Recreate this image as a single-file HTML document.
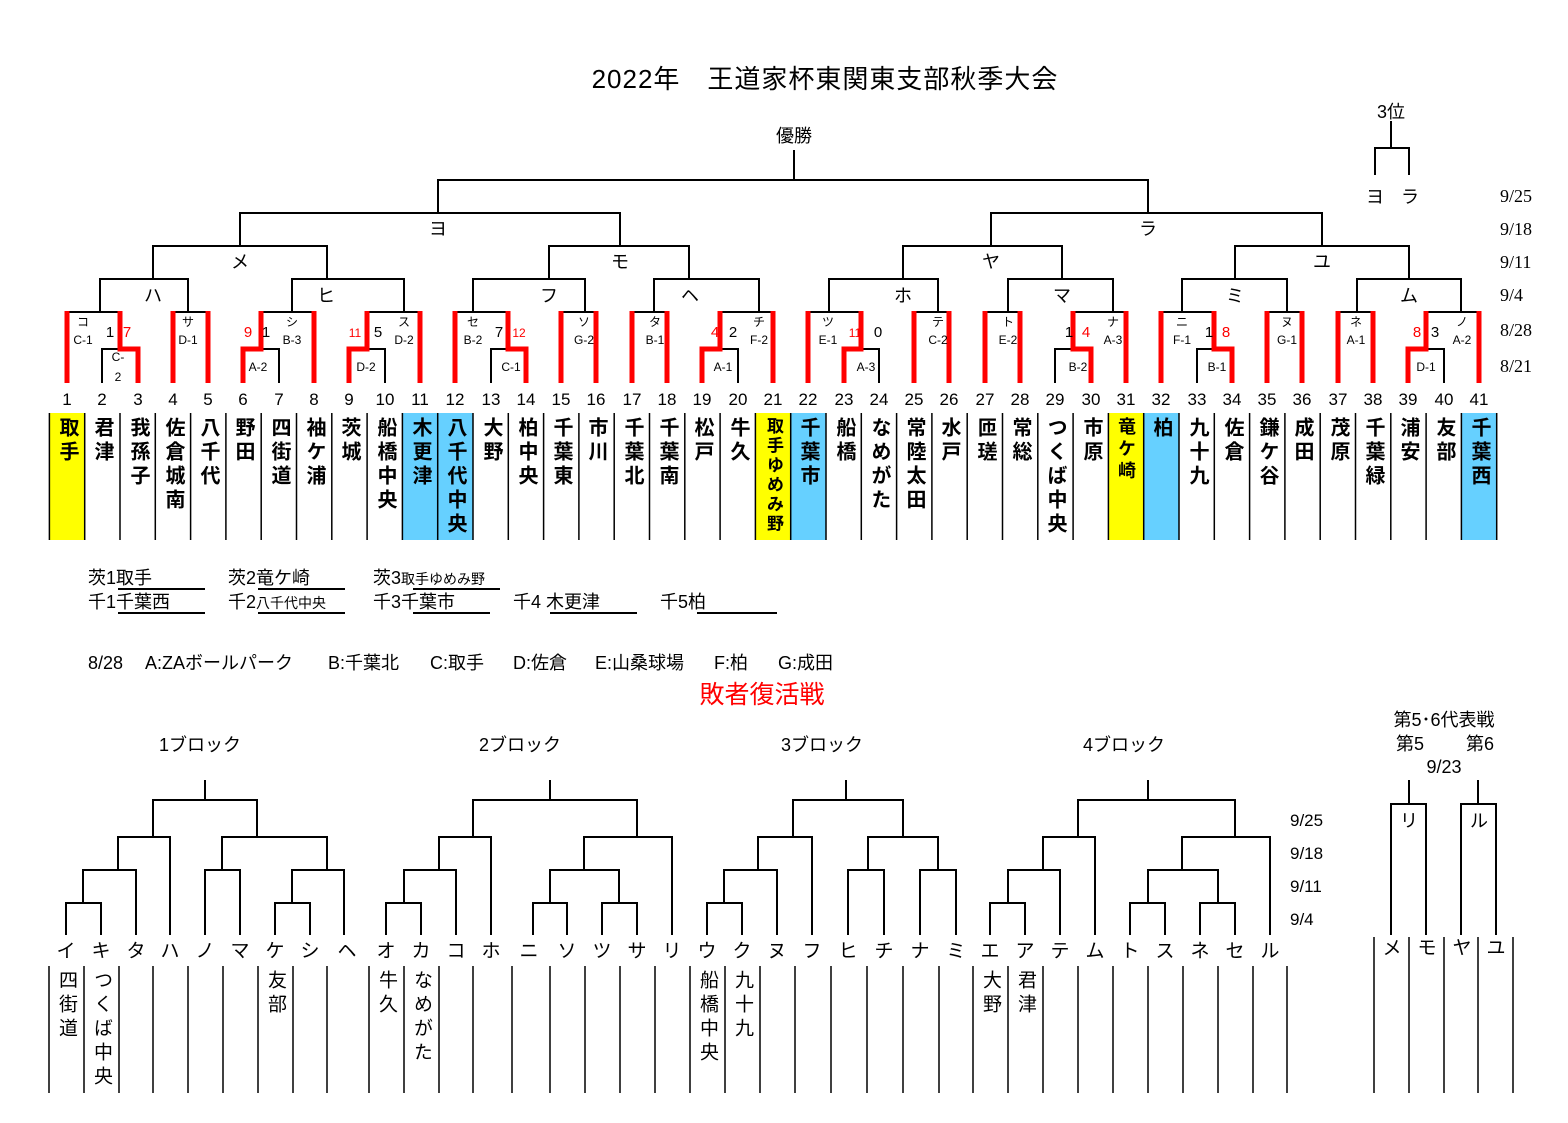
<!DOCTYPE html>
<html><head><meta charset="utf-8">
<style>
html,body{margin:0;padding:0;background:#fff;}
#w{position:relative;width:1568px;height:1123px;overflow:hidden;font-family:"Liberation Sans","Noto Sans CJK JP",sans-serif;}
svg{position:absolute;left:0;top:0;}
.v{position:absolute;writing-mode:vertical-rl;width:24px;line-height:24px;text-align:center;font-family:"Liberation Sans","Noto Sans CJK JP",sans-serif;color:#000;}
.b{font-weight:bold;font-size:20px;letter-spacing:4px;top:417px;}
.n{font-size:19px;letter-spacing:5px;top:970px;}
</style></head><body><div id="w">
<svg width="1568" height="1123" viewBox="0 0 1568 1123" font-family="Liberation Sans, Noto Sans CJK JP, sans-serif">
<g>
<rect x="49.4" y="413" width="35.3" height="127" fill="#ffff00"/>
<rect x="402.4" y="413" width="70.6" height="127" fill="#66d0ff"/>
<rect x="755.4" y="413" width="35.3" height="127" fill="#ffff00"/>
<rect x="790.7" y="413" width="35.3" height="127" fill="#66d0ff"/>
<rect x="1108.4" y="413" width="35.3" height="127" fill="#ffff00"/>
<rect x="1143.7" y="413" width="35.3" height="127" fill="#66d0ff"/>
<rect x="1461.4" y="413" width="35.3" height="127" fill="#66d0ff"/>
</g>
<path stroke="#000" stroke-width="1.5" fill="none" d="M49.4 413V540M84.7 413V540M120 413V540M155.3 413V540M190.6 413V540M225.9 413V540M261.2 413V540M296.5 413V540M331.8 413V540M367.1 413V540M402.4 413V540M437.7 413V540M473 413V540M508.3 413V540M543.6 413V540M578.9 413V540M614.2 413V540M649.5 413V540M684.8 413V540M720.1 413V540M755.4 413V540M790.7 413V540M826 413V540M861.3 413V540M896.6 413V540M931.9 413V540M967.2 413V540M1002.5 413V540M1037.8 413V540M1073.1 413V540M1108.4 413V540M1143.7 413V540M1179 413V540M1214.3 413V540M1249.6 413V540M1284.9 413V540M1320.2 413V540M1355.5 413V540M1390.8 413V540M1426.1 413V540M1461.4 413V540M1496.7 413V540"/>
<path stroke="#000" stroke-width="2" fill="none" d="
M794 150V180M438 213V180H1148V213
M240 246V213H620V246M991 246V213H1322V246
M153 279V246H327V279M549 279V246H689V279M903 279V246H1062V279M1235 279V246H1409V279
M100 312V279H188V312M292 312V279H404V312M473 312V279H585V312M654 312V279H759V312
M829 312V279H938V312M1008 312V279H1113V312M1182 312V279H1287V312M1357 312V279H1461V312
M67 312H120M173 312H208M261 312H314M367 312H420M455 312H508M561 312H596M632 312H667M720 312H773
M808 312H861M914 312H949M985 312H1020M1073 312H1126M1161 312H1214M1267 312H1302M1338 312H1373M1426 312H1479
M102 383V349H120M243 349H261M279 383V349H261M349 349H367M385 383V349H367M491 383V349H508
M702 349H720M738 383V349H720M844 349H861M879 383V349H861M1055 383V349H1073M1197 383V349H1214
M1408 349H1426M1444 383V349H1426
M1375 175V148H1409V175M1391 121V148
"/>
<path stroke="#ff0000" stroke-width="5" fill="none" d="
M67 311V383M173 311V383M208 311V383M314 311V383M420 311V383M455 311V383M561 311V383M596 311V383
M632 311V383M667 311V383M773 311V383M808 311V383M914 311V383M949 311V383M985 311V383M1020 311V383
M1126 311V383M1161 311V383M1267 311V383M1302 311V383M1338 311V383M1373 311V383M1479 311V383
M120 311V349H138V383M261 311V349H243V383M367 311V349H349V383M508 311V349H526V383
M720 311V349H702V383M861 311V349H844V383M1073 311V349H1091V383M1214 311V349H1232V383M1426 311V349H1408V383
"/>
<text x="825" y="88" font-size="26" text-anchor="middle" letter-spacing="1" style="white-space:pre">2022年　王道家杯東関東支部秋季大会</text>
<text x="794" y="142" font-size="18" text-anchor="middle">優勝</text>
<text x="1391" y="118" font-size="18" text-anchor="middle">3位</text>
<text x="1375" y="203" font-size="18" text-anchor="middle">ヨ</text>
<text x="1410" y="203" font-size="18" text-anchor="middle">ラ</text>
<g font-size="18" text-anchor="middle">
<text x="438" y="235">ヨ</text><text x="1148" y="235">ラ</text>
<text x="240" y="268">メ</text><text x="620" y="268">モ</text><text x="991" y="268">ヤ</text><text x="1322" y="268">ユ</text>
<text x="153" y="302">ハ</text><text x="326" y="302">ヒ</text><text x="549" y="302">フ</text><text x="690" y="302">ヘ</text>
<text x="903" y="302">ホ</text><text x="1062" y="302">マ</text><text x="1235" y="302">ミ</text><text x="1409" y="302">ム</text>
</g>
<g font-family="Liberation Serif, serif" font-size="18">
<text x="1500" y="202">9/25</text><text x="1500" y="235">9/18</text><text x="1500" y="268">9/11</text>
<text x="1500" y="301">9/4</text><text x="1500" y="336">8/28</text><text x="1500" y="372">8/21</text>
</g>
<g font-size="12" text-anchor="middle">
<text x="83" y="326">コ</text><text x="83" y="344">C-1</text>
<text x="118" y="361">C-</text><text x="118" y="381">2</text>
<text x="188" y="326">サ</text><text x="188" y="344">D-1</text>
<text x="292" y="326">シ</text><text x="292" y="344">B-3</text><text x="258" y="371">A-2</text>
<text x="404" y="326">ス</text><text x="404" y="344">D-2</text><text x="366" y="371">D-2</text>
<text x="473" y="326">セ</text><text x="473" y="344">B-2</text><text x="511" y="371">C-1</text>
<text x="584" y="326">ソ</text><text x="584" y="344">G-2</text>
<text x="655" y="326">タ</text><text x="655" y="344">B-1</text>
<text x="759" y="326">チ</text><text x="759" y="344">F-2</text><text x="723" y="371">A-1</text>
<text x="828" y="326">ツ</text><text x="828" y="344">E-1</text><text x="866" y="371">A-3</text>
<text x="938" y="326">テ</text><text x="938" y="344">C-2</text>
<text x="1008" y="326">ト</text><text x="1008" y="344">E-2</text>
<text x="1113" y="326">ナ</text><text x="1113" y="344">A-3</text><text x="1078" y="371">B-2</text>
<text x="1182" y="326">ニ</text><text x="1182" y="344">F-1</text><text x="1217" y="371">B-1</text>
<text x="1287" y="326">ヌ</text><text x="1287" y="344">G-1</text>
<text x="1356" y="326">ネ</text><text x="1356" y="344">A-1</text>
<text x="1462" y="326">ノ</text><text x="1462" y="344">A-2</text><text x="1426" y="371">D-1</text>
</g>
<g font-size="15" text-anchor="middle">
<text x="110" y="337">1</text><text x="127" y="337" fill="#f00">7</text>
<text x="248" y="337" fill="#f00">9</text><text x="266" y="337">1</text>
<text x="355" y="337" fill="#f00" font-size="12">11</text><text x="378" y="337">5</text>
<text x="499" y="337">7</text><text x="519" y="337" fill="#f00" font-size="12">12</text>
<text x="715" y="337" fill="#f00">4</text><text x="733" y="337">2</text>
<text x="855" y="337" fill="#f00" font-size="12">11</text><text x="878" y="337">0</text>
<text x="1069" y="337">1</text><text x="1086" y="337" fill="#f00">4</text>
<text x="1209" y="337">1</text><text x="1226" y="337" fill="#f00">8</text>
<text x="1417" y="337" fill="#f00">8</text><text x="1435" y="337">3</text>
</g>
<g font-size="17" text-anchor="middle">
<text x="67" y="405">1</text><text x="102" y="405">2</text><text x="138" y="405">3</text><text x="173" y="405">4</text><text x="208" y="405">5</text><text x="243" y="405">6</text><text x="279" y="405">7</text><text x="314" y="405">8</text><text x="349" y="405">9</text><text x="385" y="405">10</text><text x="420" y="405">11</text><text x="455" y="405">12</text><text x="491" y="405">13</text><text x="526" y="405">14</text><text x="561" y="405">15</text><text x="596" y="405">16</text><text x="632" y="405">17</text><text x="667" y="405">18</text><text x="702" y="405">19</text><text x="738" y="405">20</text><text x="773" y="405">21</text><text x="808" y="405">22</text><text x="844" y="405">23</text><text x="879" y="405">24</text><text x="914" y="405">25</text><text x="949" y="405">26</text><text x="985" y="405">27</text><text x="1020" y="405">28</text><text x="1055" y="405">29</text><text x="1091" y="405">30</text><text x="1126" y="405">31</text><text x="1161" y="405">32</text><text x="1197" y="405">33</text><text x="1232" y="405">34</text><text x="1267" y="405">35</text><text x="1302" y="405">36</text><text x="1338" y="405">37</text><text x="1373" y="405">38</text><text x="1408" y="405">39</text><text x="1444" y="405">40</text><text x="1479" y="405">41</text>
</g>
<g font-size="18">
<text x="88" y="584">茨1取手</text>
<text x="88" y="608">千1千葉西</text>
<text x="228" y="584">茨2竜ケ崎</text>
<text x="228" y="608">千2<tspan font-size="14">八千代中央</tspan></text>
<text x="373" y="584">茨3<tspan font-size="14">取手ゆめみ野</tspan></text>
<text x="373" y="608">千3千葉市</text>
<text x="513" y="608" style="white-space:pre">千4 木更津</text>
<text x="660" y="608">千5柏</text>
</g>
<g font-size="18">
<text x="88" y="669">8/28</text>
<text x="145" y="669">A:ZAボールパーク</text>
<text x="328" y="669">B:千葉北</text>
<text x="430" y="669">C:取手</text>
<text x="513" y="669">D:佐倉</text>
<text x="595" y="669">E:山桑球場</text>
<text x="714" y="669">F:柏</text>
<text x="778" y="669">G:成田</text>
</g>
<path stroke="#000" stroke-width="2" d="M118 589H205M258 589H345M413 589H500M118 613H205M258 613H345M413 613H490M550 613H637M697 613H777"/>
<text x="762" y="703" font-size="25" fill="#f00" text-anchor="middle">敗者復活戦</text>
<g font-size="18" text-anchor="middle">
<text x="200" y="751">1ブロック</text><text x="520" y="751">2ブロック</text><text x="822" y="751">3ブロック</text><text x="1124" y="751">4ブロック</text>
<text x="1444" y="726">第5･6代表戦</text><text x="1410" y="750">第5</text><text x="1480" y="750">第6</text><text x="1444" y="773">9/23</text>
<text x="1409" y="827">リ</text><text x="1479" y="827">ル</text>
</g>
<g font-size="17">
<text x="1290" y="826">9/25</text><text x="1290" y="859">9/18</text><text x="1290" y="892">9/11</text><text x="1290" y="925">9/4</text>
</g>
<path stroke="#000" stroke-width="2" fill="none" d="
M66 935V903H101V935M83 903V870H136V935M118 870V837H170V935M205 935V870H240V935M275 935V903H310V935M292 903V870H344V935M222 870V837H327V870M153 837V800H257V837M205 800V780
M386 935V903H421V935M404 903V870H456V935M439 870V837H491V935M533 935V903H567V935M602 935V903H637V935M550 903V870H619V903M584 870V837H672V935M473 837V800H637V837M550 800V780
M707 935V903H742V935M724 903V870H777V935M758 870V837H812V935M848 935V870H884V935M920 935V870H956V935M868 870V837H938V870M793 837V800H903V837M846 800V780
M990 935V903H1025V935M1008 903V870H1060V935M1043 870V837H1095V935M1130 935V903H1165V935M1200 935V903H1235V935M1148 903V870H1218V903M1182 870V837H1270V935M1078 837V800H1235V837M1148 800V780
M1391 935V804H1426V935M1409 804V780M1461 935V804H1496V935M1478 804V780
"/>
<path stroke="#000" stroke-width="1.5" fill="none" d="
M49 966V1093M84 966V1093M119 966V1093M153 966V1093M188 966V1093M223 966V1093M258 966V1093M293 966V1093M327 966V1093
M369 966V1093M404 966V1093M439 966V1093M473 966V1093M512 966V1093M550 966V1093M585 966V1093M620 966V1093M655 966V1093
M690 966V1093M725 966V1093M760 966V1093M795 966V1093M831 966V1093M867 966V1093M903 966V1093M939 966V1093
M973 966V1093M1008 966V1093M1043 966V1093M1078 966V1093M1113 966V1093M1148 966V1093M1183 966V1093M1218 966V1093M1253 966V1093M1287 966V1093
M1374 937V1093M1409 937V1093M1444 937V1093M1478 937V1093M1513 937V1093
"/>
<g font-size="19" text-anchor="middle">
<text x="66" y="957">イ</text><text x="101" y="957">キ</text><text x="136" y="957">タ</text><text x="170" y="957">ハ</text><text x="205" y="957">ノ</text><text x="240" y="957">マ</text><text x="275" y="957">ケ</text><text x="310" y="957">シ</text><text x="347" y="957">ヘ</text>
<text x="386" y="957">オ</text><text x="421" y="957">カ</text><text x="456" y="957">コ</text><text x="491" y="957">ホ</text><text x="529" y="957">ニ</text><text x="567" y="957">ソ</text><text x="602" y="957">ツ</text><text x="637" y="957">サ</text><text x="672" y="957">リ</text>
<text x="707" y="957">ウ</text><text x="742" y="957">ク</text><text x="777" y="957">ヌ</text><text x="812" y="957">フ</text><text x="848" y="957">ヒ</text><text x="884" y="957">チ</text><text x="920" y="957">ナ</text><text x="956" y="957">ミ</text>
<text x="990" y="957">エ</text><text x="1025" y="957">ア</text><text x="1060" y="957">テ</text><text x="1095" y="957">ム</text><text x="1130" y="957">ト</text><text x="1165" y="957">ス</text><text x="1200" y="957">ネ</text><text x="1235" y="957">セ</text><text x="1270" y="957">ル</text>
<text x="1392" y="954">メ</text><text x="1427" y="954">モ</text><text x="1462" y="954">ヤ</text><text x="1496" y="954">ユ</text>
</g>
</svg>
<div class="v b" style="left:55px">取手</div>
<div class="v b" style="left:90px">君津</div>
<div class="v b" style="left:126px">我孫子</div>
<div class="v b" style="left:161px">佐倉城南</div>
<div class="v b" style="left:196px">八千代</div>
<div class="v b" style="left:231px">野田</div>
<div class="v b" style="left:267px">四街道</div>
<div class="v b" style="left:302px">袖ケ浦</div>
<div class="v b" style="left:337px">茨城</div>
<div class="v b" style="left:373px">船橋中央</div>
<div class="v b" style="left:408px">木更津</div>
<div class="v b" style="left:443px">八千代中央</div>
<div class="v b" style="left:479px">大野</div>
<div class="v b" style="left:514px">柏中央</div>
<div class="v b" style="left:549px">千葉東</div>
<div class="v b" style="left:584px">市川</div>
<div class="v b" style="left:620px">千葉北</div>
<div class="v b" style="left:655px">千葉南</div>
<div class="v b" style="left:690px">松戸</div>
<div class="v b" style="left:726px">牛久</div>
<div class="v b" style="left:761px;font-size:17px;letter-spacing:2.5px">取手ゆめみ野</div>
<div class="v b" style="left:796px">千葉市</div>
<div class="v b" style="left:832px">船橋</div>
<div class="v b" style="left:867px">なめがた</div>
<div class="v b" style="left:902px">常陸太田</div>
<div class="v b" style="left:937px">水戸</div>
<div class="v b" style="left:973px">匝瑳</div>
<div class="v b" style="left:1008px">常総</div>
<div class="v b" style="left:1043px">つくば中央</div>
<div class="v b" style="left:1079px">市原</div>
<div class="v b" style="left:1114px;font-size:18px;letter-spacing:4px">竜ケ崎</div>
<div class="v b" style="left:1149px">柏</div>
<div class="v b" style="left:1185px">九十九</div>
<div class="v b" style="left:1220px">佐倉</div>
<div class="v b" style="left:1255px">鎌ケ谷</div>
<div class="v b" style="left:1290px">成田</div>
<div class="v b" style="left:1326px">茂原</div>
<div class="v b" style="left:1361px">千葉緑</div>
<div class="v b" style="left:1396px">浦安</div>
<div class="v b" style="left:1432px">友部</div>
<div class="v b" style="left:1467px">千葉西</div>
<div class="v n" style="left:54px">四街道</div>
<div class="v n" style="left:89px">つくば中央</div>
<div class="v n" style="left:263px">友部</div>
<div class="v n" style="left:374px">牛久</div>
<div class="v n" style="left:409px">なめがた</div>
<div class="v n" style="left:695px">船橋中央</div>
<div class="v n" style="left:730px">九十九</div>
<div class="v n" style="left:978px">大野</div>
<div class="v n" style="left:1013px">君津</div>
</div></body></html>
